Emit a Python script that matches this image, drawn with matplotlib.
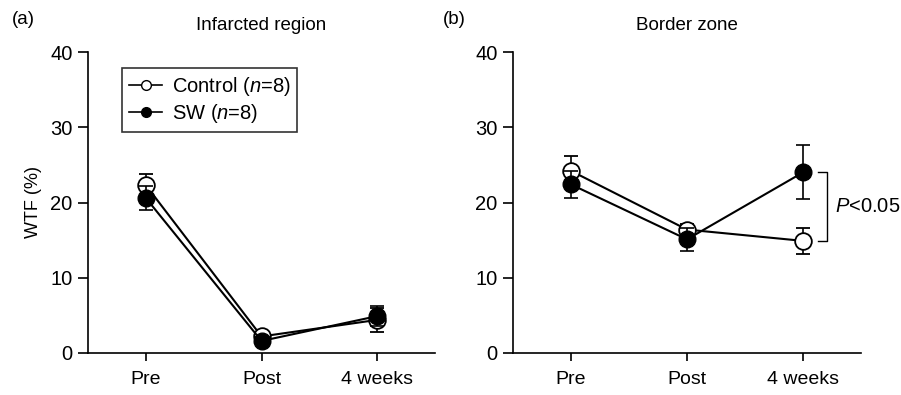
import matplotlib
matplotlib.use("Agg")
import matplotlib.pyplot as plt
from matplotlib.lines import Line2D

plt.rcParams['font.family'] = ['Liberation Sans', 'DejaVu Sans']
plt.rcParams['mathtext.fontset'] = 'custom'
plt.rcParams['mathtext.rm'] = 'Liberation Sans'
plt.rcParams['mathtext.it'] = 'Liberation Sans:italic'

timepoints = ['Pre', 'Post', '4 weeks']

# (a) infarcted region, WTF (%)
inf_control = [22.3, 2.2, 4.4]
inf_control_err = [1.5, 0.5, 1.6]
inf_sw = [20.6, 1.6, 4.9]
inf_sw_err = [1.6, 0.5, 1.3]

# (b) border zone, WTF (%)
bz_control = [24.2, 16.4, 14.9]
bz_control_err = [2.0, 0.8, 1.7]
bz_sw = [22.4, 15.1, 24.0]
bz_sw_err = [1.8, 1.5, 3.6]

fig = plt.figure(figsize=(9.01, 3.95), dpi=100)
ax1 = fig.add_axes([88/901, 42/395, 347/901, 301/395])
ax2 = fig.add_axes([513/901, 42/395, 348/901, 301/395])

x = list(range(len(timepoints)))


def draw(ax, ctrl, ctrl_err, sw, sw_err, title):
    ax.errorbar(x, ctrl, yerr=ctrl_err, fmt='-o', color='black', mfc='white',
                mec='black', mew=1.3, ms=12, lw=1.5, capsize=5, elinewidth=1.2,
                capthick=1.2, zorder=2)
    ax.errorbar(x, sw, yerr=sw_err, fmt='-o', color='black', mfc='black',
                mec='black', ms=12, lw=1.5, capsize=5, elinewidth=1.2,
                capthick=1.2, zorder=3)
    ax.set_xlim(-0.5, 2.5)
    ax.set_ylim(0, 40)
    ax.set_yticks([0, 10, 20, 30, 40])
    ax.set_xticks(x)
    ax.set_xticklabels(timepoints)
    ax.spines['top'].set_visible(False)
    ax.spines['right'].set_visible(False)
    for s in ['left', 'bottom']:
        ax.spines[s].set_linewidth(1.2)
    ax.tick_params(axis='y', direction='out', length=7, width=1.2, labelsize=14.5, pad=4)
    ax.tick_params(axis='x', direction='out', length=6, width=1.2, labelsize=14, pad=7)
    ax.set_title(title, fontsize=13.5, pad=16)


draw(ax1, inf_control, inf_control_err, inf_sw, inf_sw_err, 'Infarcted region')
draw(ax2, bz_control, bz_control_err, bz_sw, bz_sw_err, 'Border zone')

ax1.set_ylabel('WTF (%)', fontsize=13, labelpad=6)

handles = [
    Line2D([], [], color='black', lw=1.2, marker='o', ms=7, mfc='white', mec='black'),
    Line2D([], [], color='black', lw=1.2, marker='o', ms=7, mfc='black', mec='black'),
]
leg = ax1.legend(handles, ['Control ($n$=8)', 'SW ($n$=8)'], loc='upper left',
                 bbox_to_anchor=(0.07, 0.98), fontsize=14.5, frameon=True,
                 fancybox=False, edgecolor='black', handlelength=1.6,
                 handletextpad=0.5, borderpad=0.35, labelspacing=0.2)
leg.get_frame().set_linewidth(1.2)

# significance bracket at 4 weeks, border zone
bx0, bx1 = 2.13, 2.21
ax2.plot([bx0, bx1, bx1, bx0], [bz_sw[2], bz_sw[2], bz_control[2], bz_control[2]],
         color='black', lw=1.0, clip_on=False)
ax2.text(2.28, (bz_sw[2] + bz_control[2]) / 2, '$P$<0.05', fontsize=14.5,
         va='center', ha='left')

fig.text(12/901, 1 - 20/395, '(a)', fontsize=13.5, va='center', ha='left')
fig.text(443/901, 1 - 20/395, '(b)', fontsize=13.5, va='center', ha='left')

fig.savefig('out.png', dpi=100)
